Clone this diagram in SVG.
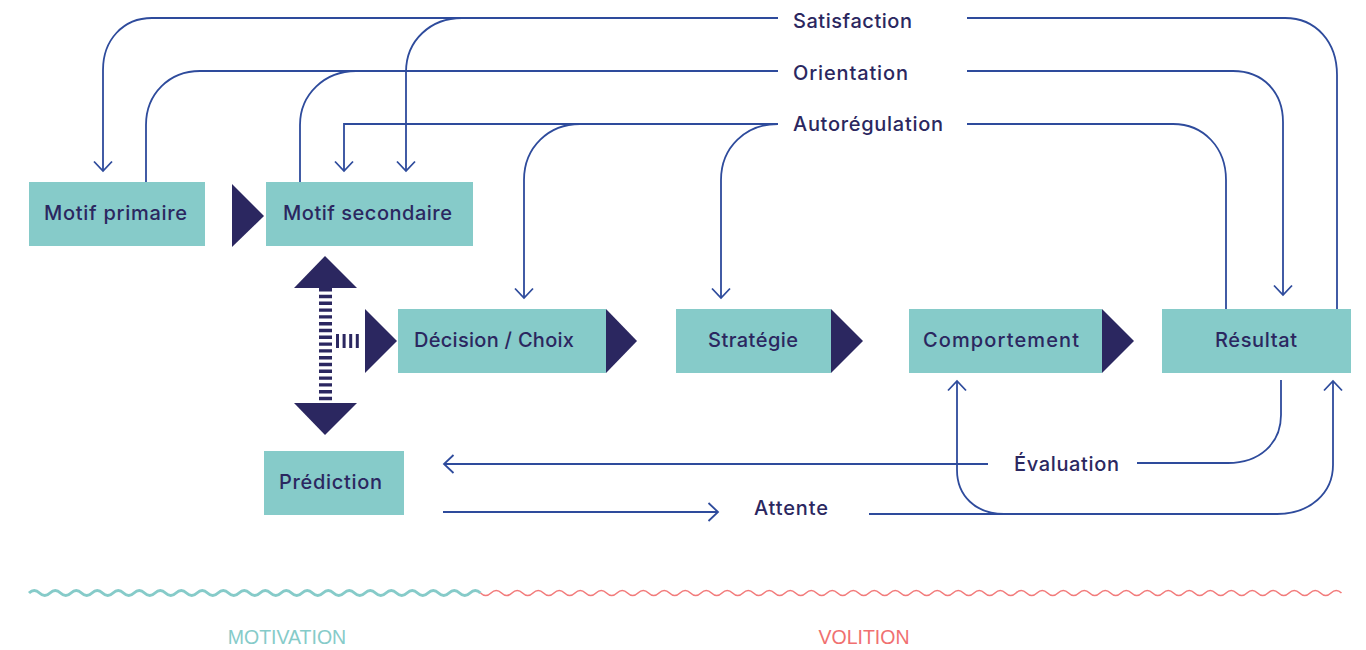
<svg xmlns="http://www.w3.org/2000/svg" width="1366" height="650" viewBox="0 0 1366 650">
<style>
.box{fill:#86CBC9}
.tri{fill:#2B2760}
.nt{font-family:Inter,"Noto Sans",sans-serif;font-size:20px;font-weight:500;fill:#2B2760}
.lb{font-family:Inter,"Noto Sans",sans-serif;font-size:20px;font-weight:500;fill:#2B2760}
.ln{fill:none;stroke:#2E4B9C;stroke-width:1.8}
.arr{marker-end:url(#ah)}
.cap{font-family:"Liberation Sans",Arial,sans-serif;font-size:19.5px;text-anchor:middle}
</style>
<defs>
<marker id="ah" markerUnits="userSpaceOnUse" viewBox="-12 -12 24 24" markerWidth="24" markerHeight="24" refX="0" refY="0" orient="auto" overflow="visible">
<path d="M -9.5 -9 L 0 0 L -9.5 9" fill="none" stroke="#2E4B9C" stroke-width="1.8"/>
</marker>
</defs>
<rect width="1366" height="650" fill="#ffffff"/>

<g id="connectors">
<path class="ln arr" d="M 778 18 H 152 C 123 18 103 40 103 70 V 171"/>
<path class="ln arr" d="M 462 18 C 431 18 406 40 406 72 V 171"/>
<path class="ln" d="M 967 18 H 1285 C 1316 18 1337 42 1337 75 V 309"/>
<path class="ln" d="M 778 71 H 200 C 169 71 146 94 146 125 V 182"/>
<path class="ln" d="M 356 71 C 325 71 300 94 300 125 V 182"/>
<path class="ln arr" d="M 967 71 H 1233 C 1263 71 1283 92 1283 122 V 295"/>
<path class="ln arr" d="M 778 124 H 344 V 171"/>
<path class="ln arr" d="M 580 124 C 549 124 524 147 524 180 V 298"/>
<path class="ln arr" d="M 778 124 C 746 124 721 147 721 180 V 298"/>
<path class="ln" d="M 967 124 H 1173 C 1204 124 1226 148 1226 180 V 309"/>
<path class="ln" d="M 1281 380 V 415 C 1281 444 1259 463 1228 463 H 1137"/>
<path class="ln arr" d="M 988 464 H 444"/>
<path class="ln arr" d="M 443 512 H 718"/>
<path class="ln arr" d="M 869 514 H 1277 C 1310 514 1333 493 1333 465 V 381"/>
<path class="ln arr" d="M 1004 514 C 976 514 957 496 957 470 V 381"/>
</g>

<g id="labels">
<text class="lb" x="793" y="28" textLength="119" lengthAdjust="spacing">Satisfaction</text>
<text class="lb" x="793" y="80" textLength="115" lengthAdjust="spacing">Orientation</text>
<text class="lb" x="793" y="131" textLength="150" lengthAdjust="spacing">Autorégulation</text>
<text class="lb" x="1014" y="471" textLength="105" lengthAdjust="spacing">Évaluation</text>
<text class="lb" x="754" y="515" textLength="74" lengthAdjust="spacing">Attente</text>
</g>

<g id="motif-primaire">
<rect class="box" x="29" y="182" width="176" height="64"/>
<text class="nt" x="44" y="220" textLength="143" lengthAdjust="spacing">Motif primaire</text>
</g>
<g id="tri-1"><polygon class="tri" points="232,184 264,216 232,247"/></g>
<g id="motif-secondaire">
<rect class="box" x="266" y="182" width="207" height="64"/>
<text class="nt" x="283" y="220" textLength="169" lengthAdjust="spacing">Motif secondaire</text>
</g>

<g id="double-arrow">
<polygon class="tri" points="325,256 357,288 294,288"/>
<line x1="325.5" y1="288" x2="325.5" y2="403" stroke="#2B2760" stroke-width="13" stroke-dasharray="3.4 3.4"/>
<polygon class="tri" points="294,403 357,403 325,435"/>
<line x1="336" y1="341" x2="362" y2="341" stroke="#2B2760" stroke-width="14" stroke-dasharray="3 3.6"/>
</g>

<g id="tri-2"><polygon class="tri" points="365,309 397,341 365,373"/></g>
<g id="decision">
<rect class="box" x="398" y="309" width="208" height="64"/>
<text class="nt" x="414" y="347" textLength="160" lengthAdjust="spacing">Décision / Choix</text>
</g>
<g id="tri-3"><polygon class="tri" points="606,309 637,341 606,373"/></g>
<g id="strategie">
<rect class="box" x="676" y="309" width="155" height="64"/>
<text class="nt" x="708" y="347" textLength="90" lengthAdjust="spacing">Stratégie</text>
</g>
<g id="tri-4"><polygon class="tri" points="831,309 863,341 831,373"/></g>
<g id="comportement">
<rect class="box" x="909" y="309" width="193" height="64"/>
<text class="nt" x="923" y="347" textLength="156" lengthAdjust="spacing">Comportement</text>
</g>
<g id="tri-5"><polygon class="tri" points="1102,309 1134,341 1102,373"/></g>
<g id="resultat">
<rect class="box" x="1162" y="309" width="189" height="64"/>
<text class="nt" x="1215" y="347" textLength="82" lengthAdjust="spacing">Résultat</text>
</g>
<g id="prediction">
<rect class="box" x="264" y="451" width="140" height="64"/>
<text class="nt" x="279" y="489" textLength="103" lengthAdjust="spacing">Prédiction</text>
</g>

<g id="phases">
<path fill="none" stroke="#86CBC9" stroke-width="3" d="M29 593 q5.25 -5 10.5 0 t10.5 0 t10.5 0 t10.5 0 t10.5 0 t10.5 0 t10.5 0 t10.5 0 t10.5 0 t10.5 0 t10.5 0 t10.5 0 t10.5 0 t10.5 0 t10.5 0 t10.5 0 t10.5 0 t10.5 0 t10.5 0 t10.5 0 t10.5 0 t10.5 0 t10.5 0 t10.5 0 t10.5 0 t10.5 0 t10.5 0 t10.5 0 t10.5 0 t10.5 0 t10.5 0 t10.5 0 t10.5 0 t10.5 0 t10.5 0 t10.5 0 t10.5 0 t10.5 0 t10.5 0 t10.5 0 t10.5 0 t10.5 0 t10.5 0"/>
<path fill="none" stroke="#F27B7B" stroke-width="1.6" d="M480.5 593 q5.25 5 10.5 0
t10.5 0 t10.5 0 t10.5 0 t10.5 0 t10.5 0 t10.5 0 t10.5 0 t10.5 0 t10.5 0 t10.5 0
t10.5 0 t10.5 0 t10.5 0 t10.5 0 t10.5 0 t10.5 0 t10.5 0 t10.5 0 t10.5 0 t10.5 0
t10.5 0 t10.5 0 t10.5 0 t10.5 0 t10.5 0 t10.5 0 t10.5 0 t10.5 0 t10.5 0 t10.5 0
t10.5 0 t10.5 0 t10.5 0 t10.5 0 t10.5 0 t10.5 0 t10.5 0 t10.5 0 t10.5 0 t10.5 0
t10.5 0 t10.5 0 t10.5 0 t10.5 0 t10.5 0 t10.5 0 t10.5 0 t10.5 0 t10.5 0 t10.5 0
t10.5 0 t10.5 0 t10.5 0 t10.5 0 t10.5 0 t10.5 0 t10.5 0 t10.5 0 t10.5 0 t10.5 0
t10.5 0 t10.5 0 t10.5 0 t10.5 0 t10.5 0 t10.5 0 t10.5 0 t10.5 0 t10.5 0 t10.5 0
t10.5 0 t10.5 0 t10.5 0 t10.5 0 t10.5 0 t10.5 0 t10.5 0 t10.5 0 t10.5 0 t10.5 0
t10.5 0"/>
<text class="cap" x="287" y="644" fill="#86CBC9">MOTIVATION</text>
<text class="cap" x="864" y="644" fill="#F07070">VOLITION</text>
</g>
</svg>
